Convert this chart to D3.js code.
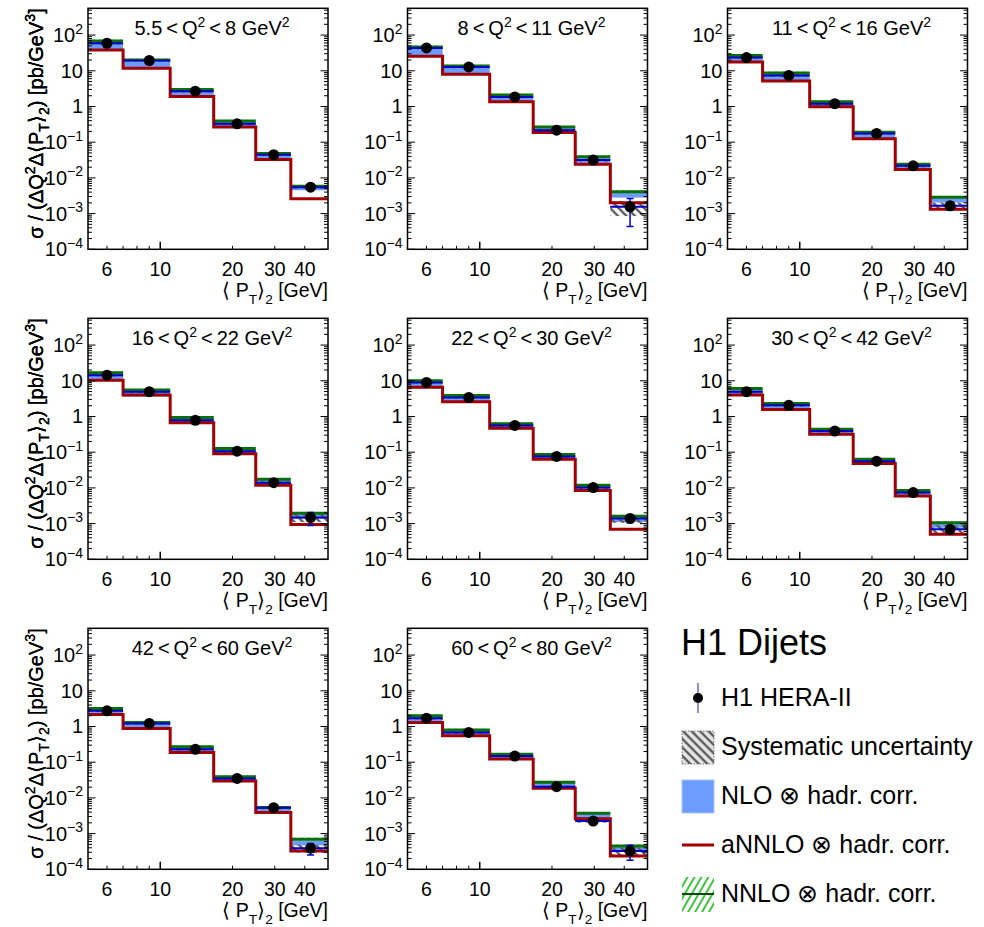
<!DOCTYPE html>
<html>
<head>
<meta charset="utf-8">
<script src="https://cdn.jsdelivr.net/npm/d3@7"></script>
<style>
body { margin: 0; background: #fff; }
text { font-family: "Liberation Sans", Arial, sans-serif; fill: #000; }
</style>
</head>
<body>
<div id="chart"></div>
<script>
// Q2 bin ranges (GeV^2), one per panel
var q2Lo = ["5.5", "8", "11", "16", "22", "30", "42", "60"];
var q2Hi = ["8", "11", "16", "22", "30", "42", "60", "80"];

// <PT>2 bin edges and mean positions of the data points (GeV)
var binEdges = [5, 7, 11, 16.7, 25, 35, 50];
var ptMeans = [6.0, 9.0, 14.0, 20.9, 29.7, 42.3];

// measured cross sections [pb/GeV^3]
var h1Data = [
  [59, 19.4, 2.68, 0.328, 0.0445, 0.0055],
  [43.5, 12.8, 1.85, 0.217, 0.0315, 0.00155],
  [23.5, 7.4, 1.2, 0.176, 0.0218, 0.00166],
  [14.4, 4.95, 0.78, 0.107, 0.014, 0.00147],
  [9.0, 3.4, 0.56, 0.076, 0.0102, 0.0014],
  [4.95, 2.05, 0.39, 0.056, 0.0074, 0.00069],
  [2.75, 1.22, 0.229, 0.035, 0.0053, 0.00039],
  [1.69, 0.68, 0.148, 0.0206, 0.00225, 0.000325]
];
// relative total error (vertical bar)
var statErr = [
  [0.04, 0.04, 0.04, 0.05, 0.06, 0.10],
  [0.04, 0.04, 0.04, 0.05, 0.08, 0.72],
  [0.04, 0.04, 0.04, 0.05, 0.08, 0.25],
  [0.04, 0.04, 0.04, 0.05, 0.08, 0.40],
  [0.04, 0.04, 0.04, 0.05, 0.08, 0.25],
  [0.04, 0.04, 0.04, 0.05, 0.08, 0.25],
  [0.04, 0.04, 0.04, 0.05, 0.08, 0.35],
  [0.04, 0.04, 0.04, 0.05, 0.10, 0.45]
];
// relative systematic uncertainty (hatched band)
var sysErr = [
  [0.08, 0.08, 0.08, 0.08, 0.08, 0.10],
  [0.08, 0.08, 0.08, 0.08, 0.10, 0.45],
  [0.08, 0.08, 0.08, 0.08, 0.10, 0.22],
  [0.08, 0.08, 0.08, 0.08, 0.10, 0.25],
  [0.08, 0.08, 0.08, 0.08, 0.10, 0.25],
  [0.08, 0.08, 0.08, 0.08, 0.10, 0.30],
  [0.08, 0.08, 0.08, 0.08, 0.10, 0.25],
  [0.08, 0.08, 0.08, 0.08, 0.10, 0.25]
];
// NLO x hadr. corr. (central value and relative band half width)
var nloVals = [
  [50, 15, 2.4, 0.33, 0.042, 0.0053],
  [35, 10.5, 1.65, 0.225, 0.031, 0.0033],
  [22, 6.8, 1.15, 0.155, 0.02, 0.0024],
  [13, 4.6, 0.8, 0.11, 0.0145, 0.0016],
  [8.2, 3.2, 0.55, 0.075, 0.01, 0.0013],
  [5.0, 1.95, 0.38, 0.055, 0.0073, 0.0009],
  [2.7, 1.1, 0.235, 0.035, 0.0048, 0.00055],
  [1.65, 0.68, 0.145, 0.024, 0.0032, 0.00038]
];
var nloErr = [0.25, 0.22, 0.2, 0.18, 0.15, 0.15];
// NNLO x hadr. corr.
var nnloVals = [
  [68, 20, 3.0, 0.39, 0.048, 0.0058],
  [46.5, 13.6, 2.1, 0.265, 0.039, 0.0041],
  [27, 8.7, 1.35, 0.19, 0.024, 0.00285],
  [16.9, 5.5, 0.93, 0.126, 0.0174, 0.00194],
  [10, 3.9, 0.63, 0.086, 0.0118, 0.0016],
  [6.1, 2.3, 0.44, 0.063, 0.0085, 0.00106],
  [3.2, 1.3, 0.27, 0.039, 0.0054, 0.0007],
  [2.0, 0.8, 0.166, 0.0273, 0.0037, 0.00045]
];
var nnloErr = [0.10, 0.09, 0.08, 0.08, 0.08, 0.10];
// aNNLO x hadr. corr.
var annloVals = [
  [38.5, 11.8, 1.9, 0.265, 0.033, 0.00262],
  [25.6, 8.0, 1.35, 0.187, 0.0243, 0.002],
  [17.7, 5.2, 0.98, 0.125, 0.0172, 0.00132],
  [10.3, 3.98, 0.67, 0.091, 0.0118, 0.00095],
  [6.6, 2.6, 0.47, 0.063, 0.0085, 0.0007],
  [4.0, 1.58, 0.316, 0.048, 0.0059, 0.0005],
  [2.18, 0.885, 0.188, 0.0297, 0.0039, 0.000325],
  [1.3, 0.55, 0.122, 0.0186, 0.0026, 0.000235]
];

var xTickLabels = [6, 10, 20, 30, 40];
var yDecades = [-4, -3, -2, -1, 0, 1, 2];

var W = 984, H = 927;
var colLeft = [88, 407.5, 727.5];
var rowTop = [8.3, 318.3, 628.3];
var pw = 240, ph = 241;
var fs = 20;

var svg = d3.select("#chart").append("svg")
    .attr("width", W)
    .attr("height", H);
var defs = svg.append("defs");

var gh = defs.append("pattern").attr("id", "nnloHatch")
    .attr("patternUnits", "userSpaceOnUse")
    .attr("width", 6).attr("height", 6)
    .attr("patternTransform", "rotate(30)");
gh.append("line").attr("x1", 2).attr("y1", 0).attr("x2", 2).attr("y2", 6)
    .attr("stroke", "#3fc43f").attr("stroke-width", 2);

var sh = defs.append("pattern").attr("id", "sysHatch")
    .attr("patternUnits", "userSpaceOnUse")
    .attr("width", 6).attr("height", 6)
    .attr("patternTransform", "rotate(-45)");
sh.append("line").attr("x1", 2).attr("y1", 0).attr("x2", 2).attr("y2", 6)
    .attr("stroke", "#5a5a5a").attr("stroke-width", 2.4);

var x = d3.scaleLog().domain([5, 50]).range([0, pw]);
var y = d3.scaleLog().domain([1e-4, Math.pow(10, 2.75)]).range([ph, 0]);

// text with super/subscripts
function rich(t, parts, size) {
  var shift = 0;
  parts.forEach(function(p) {
    var s = p[1] == "sup" ? -0.42 * size : (p[1] == "sub" ? 0.32 * size : 0);
    var ts = t.append("tspan").text(p[0]).attr("dy", s - shift);
    if (p[1]) ts.attr("font-size", size * 0.7);
    shift = s;
  });
}

q2Lo.forEach(function(lo, i) {
  var c = i % 3, r = Math.floor(i / 3);
  var g = svg.append("g").attr("transform", "translate(" + colLeft[c] + "," + rowTop[r] + ")");

  defs.append("clipPath").attr("id", "clip" + i)
    .append("rect").attr("width", pw).attr("height", ph);

  var bins = d3.range(6).map(function(j) {
    return {
      lo: binEdges[j], hi: binEdges[j + 1], mean: ptMeans[j],
      d: h1Data[i][j], e: statErr[i][j] * h1Data[i][j], sy: sysErr[i][j],
      nlo: nloVals[i][j], nloE: nloErr[j],
      nnlo: nnloVals[i][j], nnloE: nnloErr[j],
      an: annloVals[i][j]
    };
  });

  var plot = g.append("g").attr("clip-path", "url(#clip" + i + ")");

  // NLO band
  plot.selectAll(".nlo").data(bins).enter().append("rect")
    .attr("x", function(b) { return x(b.lo); })
    .attr("width", function(b) { return x(b.hi) - x(b.lo); })
    .attr("y", function(b) { return y(b.nlo * (1 + b.nloE)); })
    .attr("height", function(b) { return y(b.nlo * (1 - b.nloE)) - y(b.nlo * (1 + b.nloE)); })
    .attr("fill", "#6c9cff");

  // NNLO hatched band
  plot.selectAll(".nnlo").data(bins).enter().append("rect")
    .attr("x", function(b) { return x(b.lo); })
    .attr("width", function(b) { return x(b.hi) - x(b.lo); })
    .attr("y", function(b) { return y(b.nnlo * (1 + b.nnloE)); })
    .attr("height", function(b) { return y(b.nnlo * (1 - b.nnloE)) - y(b.nnlo * (1 + b.nnloE)); })
    .attr("fill", "url(#nnloHatch)");

  // systematic uncertainty
  plot.selectAll(".sys").data(bins).enter().append("rect")
    .attr("x", function(b) { return x(b.lo); })
    .attr("width", function(b) { return x(b.hi) - x(b.lo); })
    .attr("y", function(b) { return y(b.d * (1 + b.sy)); })
    .attr("height", function(b) { return y(b.d * (1 - b.sy)) - y(b.d * (1 + b.sy)); })
    .attr("fill", "url(#sysHatch)");

  // NNLO central
  plot.selectAll(".nnloL").data(bins).enter().append("line")
    .attr("x1", function(b) { return x(b.lo); })
    .attr("x2", function(b) { return x(b.hi); })
    .attr("y1", function(b) { return y(b.nnlo); })
    .attr("y2", function(b) { return y(b.nnlo); })
    .attr("stroke", "#0a6e0a").attr("stroke-width", 3);

  // aNNLO step line
  var pts = bins.map(function(b) { return [b.lo, b.an]; });
  pts.push([binEdges[6], bins[5].an]);
  plot.append("path")
    .attr("d", d3.line()
      .x(function(p) { return x(p[0]); })
      .y(function(p) { return y(p[1]); })
      .curve(d3.curveStepAfter)(pts))
    .attr("fill", "none").attr("stroke", "#a00000").attr("stroke-width", 3);

  // data
  plot.selectAll(".xerr").data(bins).enter().append("line")
    .attr("x1", function(b) { return x(b.lo); })
    .attr("x2", function(b) { return x(b.hi); })
    .attr("y1", function(b) { return y(b.d); })
    .attr("y2", function(b) { return y(b.d); })
    .attr("stroke", "#0000c8").attr("stroke-width", 2);
  plot.selectAll(".yerr").data(bins).enter().append("line")
    .attr("x1", function(b) { return x(b.mean); })
    .attr("x2", function(b) { return x(b.mean); })
    .attr("y1", function(b) { return y(b.d + b.e); })
    .attr("y2", function(b) { return b.d - b.e > 1e-4 ? y(b.d - b.e) : ph; })
    .attr("stroke", "#0000c8").attr("stroke-width", 1.5);
  [1, -1].forEach(function(sgn) {
    plot.selectAll(".cap").data(bins.filter(function(b) { return b.e / b.d > 0.15; })).enter().append("line")
      .attr("x1", function(b) { return x(b.mean) - 3.5; })
      .attr("x2", function(b) { return x(b.mean) + 3.5; })
      .attr("y1", function(b) { return y(b.d + sgn * b.e); })
      .attr("y2", function(b) { return y(b.d + sgn * b.e); })
      .attr("stroke", "#0000c8").attr("stroke-width", 1.5);
  });
  g.selectAll(".dot").data(bins).enter().append("circle")
    .attr("cx", function(b) { return x(b.mean); })
    .attr("cy", function(b) { return y(b.d); })
    .attr("r", 5.5).attr("fill", "#000");

  // frame
  g.append("rect").attr("width", pw).attr("height", ph)
    .attr("fill", "none").attr("stroke", "#000").attr("stroke-width", 1.5);

  // y ticks (left and right)
  var yt = [];
  yDecades.forEach(function(dc) {
    for (var k = 1; k <= 9; k++) {
      var v = k * Math.pow(10, dc);
      if (v <= y.domain()[1]) yt.push({ v: v, major: k == 1 });
    }
  });
  yt.forEach(function(t) {
    var len = t.major ? 7.5 : 4;
    g.append("line").attr("x1", 0).attr("x2", len)
      .attr("y1", y(t.v)).attr("y2", y(t.v)).attr("stroke", "#000").attr("stroke-width", 1);
    g.append("line").attr("x1", pw).attr("x2", pw - len)
      .attr("y1", y(t.v)).attr("y2", y(t.v)).attr("stroke", "#000").attr("stroke-width", 1);
  });
  yDecades.forEach(function(dc) {
    var t = g.append("text").attr("x", -5).attr("y", y(Math.pow(10, dc)) + 7)
      .attr("text-anchor", "end").attr("font-size", fs);
    if (dc == 0) rich(t, [["1"]], fs);
    else if (dc == 1) rich(t, [["10"]], fs);
    else rich(t, [["10"], [String(dc).replace("-", "\u2212"), "sup"]], fs);
  });

  // x ticks
  [6, 7, 8, 9, 10, 20, 30, 40].forEach(function(v) {
    var len = v == 10 ? 7.5 : 3.5;
    g.append("line").attr("x1", x(v)).attr("x2", x(v))
      .attr("y1", ph).attr("y2", ph - len).attr("stroke", "#000").attr("stroke-width", v == 10 ? 1.5 : 1);
  });
  xTickLabels.forEach(function(v) {
    g.append("text").attr("x", x(v)).attr("y", ph + 26.5)
      .attr("text-anchor", "middle").attr("font-size", 19.5).text(v);
  });

  // axis titles
  var xt = g.append("text").attr("x", pw).attr("y", ph + 48)
    .attr("text-anchor", "end").attr("font-size", 19.5);
  rich(xt, [["\u27E8 P"], ["T", "sub"], ["\u27E9"], ["2", "sub"], [" [GeV]"]], 19.5);

  var ytl = g.append("text")
    .attr("transform", "translate(" + (43 - colLeft[c]) + ",0) rotate(-90)")
    .attr("text-anchor", "end").attr("font-size", fs);
  rich(ytl, [["\u03C3 / (\u0394Q"], ["2", "sup"], ["\u0394\u27E8P"], ["T", "sub"], ["\u27E9"], ["2", "sub"],
             [") [pb/GeV"], ["3", "sup"], ["]"]], fs);

  // panel title
  var tt = g.append("text").attr("x", pw / 2 + 4).attr("y", 27)
    .attr("text-anchor", "middle").attr("font-size", 20);
  rich(tt, [[lo + "\u2009<\u2009Q"], ["2", "sup"], ["\u2009<\u2009" + q2Hi[i] + " GeV"], ["2", "sup"]], 20);
});

// legend
var lg = svg.append("g");
lg.append("text").attr("x", 681).attr("y", 655).attr("font-size", 36).text("H1 Dijets");

var lfs = 25, tx = 721;
lg.append("line").attr("x1", 698).attr("x2", 698).attr("y1", 683).attr("y2", 713)
  .attr("stroke", "#6a6ad0").attr("stroke-width", 1.5);
lg.append("circle").attr("cx", 698).attr("cy", 698).attr("r", 5).attr("fill", "#000");
lg.append("text").attr("x", tx).attr("y", 706).attr("font-size", lfs).text("H1 HERA-II");

lg.append("rect").attr("x", 682).attr("y", 731).attr("width", 32).attr("height", 33)
  .attr("fill", "#e8e8e8");
lg.append("rect").attr("x", 682).attr("y", 731).attr("width", 32).attr("height", 33)
  .attr("fill", "url(#sysHatch)").attr("stroke", "#777").attr("stroke-dasharray", "1.5,1.5");
lg.append("text").attr("x", tx).attr("y", 755).attr("font-size", lfs).text("Systematic uncertainty");

lg.append("rect").attr("x", 682).attr("y", 780).attr("width", 32).attr("height", 33)
  .attr("fill", "#6c9cff").attr("stroke", "#a8c4ff");
lg.append("text").attr("x", tx).attr("y", 804).attr("font-size", lfs).text("NLO \u2297 hadr. corr.");

lg.append("line").attr("x1", 682).attr("x2", 714).attr("y1", 845).attr("y2", 845)
  .attr("stroke", "#a00000").attr("stroke-width", 3);
lg.append("text").attr("x", tx).attr("y", 853).attr("font-size", lfs).text("aNNLO \u2297 hadr. corr.");

lg.append("rect").attr("x", 682).attr("y", 877).attr("width", 32).attr("height", 35)
  .attr("fill", "url(#nnloHatch)");
lg.append("line").attr("x1", 682).attr("x2", 714).attr("y1", 894).attr("y2", 894)
  .attr("stroke", "#0a4a0a").attr("stroke-width", 2);
lg.append("text").attr("x", tx).attr("y", 902).attr("font-size", lfs).text("NNLO \u2297 hadr. corr.");
</script>
</body>
</html>
